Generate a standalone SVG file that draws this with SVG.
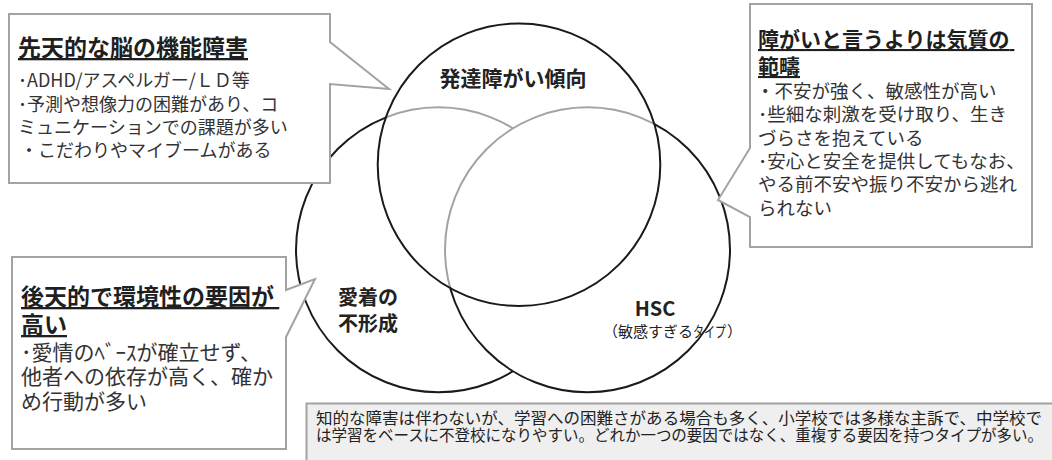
<svg xmlns="http://www.w3.org/2000/svg" width="1052" height="460" viewBox="0 0 1052 460">
<style>
  text { font-family: "Noto Sans CJK JP", "Noto Sans", sans-serif; }
  .circle { fill: #ffffff; stroke: #1a1a1a; stroke-width: 2; }
  .circle-top { fill: #ffffff; fill-opacity: 0.6; stroke: #1a1a1a; stroke-width: 2; }
  .label { font-weight: 700; fill: #222222; }
  .sub { font-size: 15px; fill: #222222; }
  .callout { fill: #ffffff; stroke: #a3a3a3; stroke-width: 2; stroke-linejoin: miter; }
  .title { font-weight: 700; fill: #1f1f1f; text-decoration: underline; }
  .body { fill: #333333; }
  .note-box { fill: #efefef; stroke: #a3a3a3; stroke-width: 2; }
  .note { fill: #222222; font-size: 16px; }
</style>
<rect width="1052" height="460" fill="#ffffff"/>

<g id="node-attachment">
  <circle class="circle" cx="438.5" cy="249.8" r="142.5"/>
</g>
<g id="node-hsc">
  <circle class="circle" cx="587.5" cy="249.8" r="142.5"/>
</g>
<g id="node-developmental">
  <circle class="circle-top" cx="519" cy="164.7" r="141.3"/>
</g>

<g id="labels">
  <text class="label" x="513" y="86" font-size="21" text-anchor="middle">発達障がい傾向</text>
  <text class="label" x="338" y="305" font-size="20">愛着の</text>
  <text class="label" x="338" y="331" font-size="20">不形成</text>
  <text class="label" x="655" y="316" font-size="20" text-anchor="middle">HSC</text>
  <text class="sub" x="603" y="337">（敏感すぎる</text>
  <text class="sub" x="693" y="337" textLength="33" lengthAdjust="spacingAndGlyphs">タイプ</text>
  <text class="sub" x="727" y="337">）</text>
</g>

<g id="callout-congenital">
  <path class="callout" d="M9,14 H330 V42 L389,89 L330,84 V183 H9 Z"/>
  <text class="title" x="18" y="56" font-size="23">先天的な脳の機能障害</text>
  <text class="body" font-size="18">
    <tspan x="18" y="87">･ADHD/アスペルガー/ＬＤ等</tspan>
    <tspan x="18" y="111">･予測や想像力の困難があり、コ</tspan>
    <tspan x="18" y="134">ミュニケーションでの課題が多い</tspan>
    <tspan x="20" y="157">・こだわりやマイブームがある</tspan>
  </text>
</g>

<g id="callout-temperament">
  <path class="callout" d="M750,4 H1032 V247 H750 V217 L718,200 L750,148 Z"/>
  <text class="title" font-size="21">
    <tspan x="758" y="47">障がいと言うよりは気質の</tspan>
    <tspan x="758" y="74">範疇</tspan>
  </text>
  <text class="body" font-size="18.5">
    <tspan x="756" y="98">・不安が強く、敏感性が高い</tspan>
    <tspan x="758" y="121">･些細な刺激を受け取り、生き</tspan>
    <tspan x="758" y="145">づらさを抱えている</tspan>
    <tspan x="758" y="168">･安心と安全を提供してもなお、</tspan>
    <tspan x="758" y="191">やる前不安や振り不安から逃れ</tspan>
    <tspan x="758" y="215">られない</tspan>
  </text>
</g>

<g id="callout-acquired">
  <path class="callout" d="M12,257 H286 V290 L315,279 L286,337 V449 H12 Z"/>
  <text class="title" font-size="23">
    <tspan x="21" y="305">後天的で環境性の要因が</tspan>
    <tspan x="21" y="333">高い</tspan>
  </text>
  <text class="body" font-size="21">
    <tspan x="21" y="360">･愛情のﾍﾞｰｽが確立せず、</tspan>
    <tspan x="21" y="384">他者への依存が高く、確か</tspan>
    <tspan x="21" y="409">め行動が多い</tspan>
  </text>
</g>

<g id="note">
  <rect class="note-box" x="306.5" y="403.5" width="760" height="70"/>
  <text class="note" x="316" y="424" textLength="726" lengthAdjust="spacingAndGlyphs">知的な障害は伴わないが、学習への困難さがある場合も多く、小学校では多様な主訴で、中学校で</text>
  <text class="note" x="316" y="441" textLength="727" lengthAdjust="spacingAndGlyphs">は学習をベースに不登校になりやすい。どれか一つの要因ではなく、重複する要因を持つタイプが多い。</text>
</g>
</svg>
